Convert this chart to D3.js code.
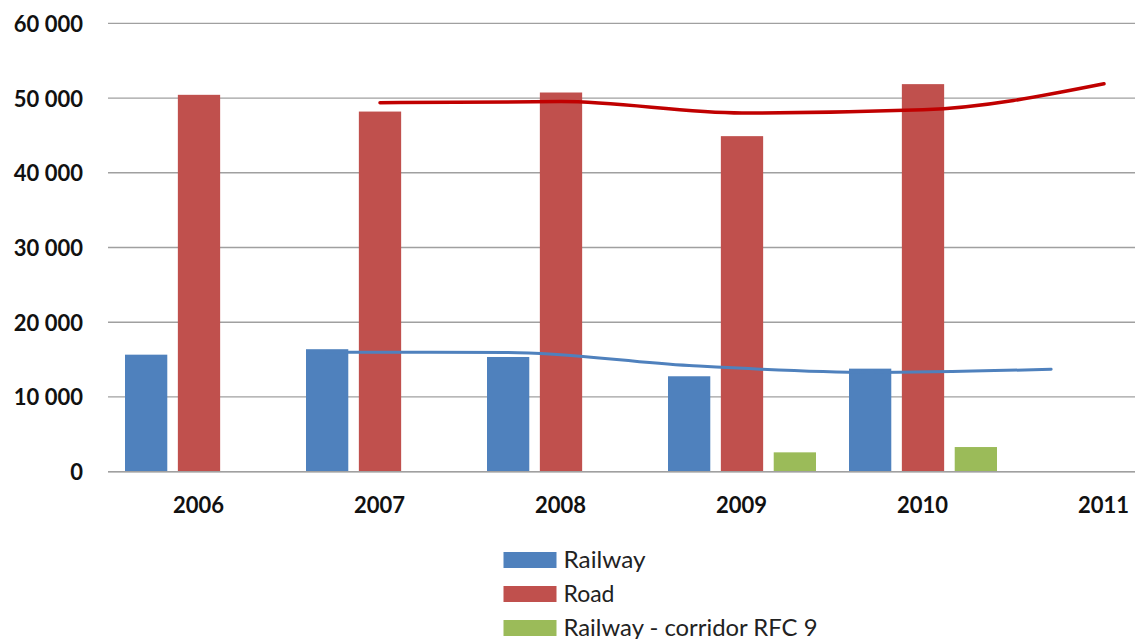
<!DOCTYPE html>
<html>
<head>
<meta charset="utf-8">
<script src="https://cdn.jsdelivr.net/npm/d3@7"></script>
<style>
  html, body { margin: 0; padding: 0; background: #fff; }
  svg { display: block; }
</style>
</head>
<body>
<div id="chart"></div>
<script>
// ---- data ----
const years = ["2006", "2007", "2008", "2009", "2010", "2011"];
const seriesNames = ["Railway", "Road", "Railway - corridor RFC 9"];
const railway = [15660, 16390, 15350, 12770, 13790, null];
const road = [50430, 48190, 50740, 44900, 51860, null];
const corridor = [null, null, null, 2590, 3300, null];
const roadTrend = [null, 49360, 49530, 48000, 48420, 51900];
const railwayTrend = [null, 16000, 15960, 14200, 13280, 13710];
const yTicks = [0, 10000, 20000, 30000, 40000, 50000, 60000];
const yTickLabels = ["0", "10 000", "20 000", "30 000", "40 000", "50 000", "60 000"];

const colors = { "Railway": "#4F81BD", "Road": "#C0504D", "Railway - corridor RFC 9": "#9BBB59" };
const W = 1135, H = 639;
const svg = d3.select("#chart").append("svg").attr("width", W).attr("height", H);

const x = d3.scaleBand().domain(years).range([108, 108 + 6 * 181]);
const sub = d3.scaleBand().domain(seriesNames).range([17, 165]).paddingInner(0.2);
const y = d3.scaleLinear().domain([0, 60000]).range([471.7, 23.3]);

// gridlines
svg.append("g").selectAll("line").data(yTicks).join("line")
  .attr("x1", 108).attr("x2", W)
  .attr("y1", d => y(d)).attr("y2", d => y(d))
  .attr("stroke", "#a0a0a0").attr("stroke-width", 1.3);

// y labels
svg.append("g").selectAll("text").data(yTicks).join("text")
  .attr("x", 83).attr("y", d => y(d))
  .attr("text-anchor", "end").attr("dominant-baseline", "central")
  .attr("font-family", "Lato, 'Open Sans', sans-serif").attr("font-weight", "bold")
  .attr("font-size", 22).attr("fill", "#111")
  .text((d, i) => yTickLabels[i]);

// x labels
svg.append("g").selectAll("text").data(years).join("text")
  .attr("x", d => x(d) + x.bandwidth() / 2).attr("y", 513)
  .attr("text-anchor", "middle")
  .attr("font-family", "Lato, 'Open Sans', sans-serif").attr("font-weight", "bold")
  .attr("font-size", 22).attr("fill", "#111")
  .text(d => d);

// bars
const seriesData = [railway, road, corridor];
const bars = [];
seriesNames.forEach((s, si) => {
  years.forEach((yr, i) => {
    const v = seriesData[si][i];
    if (v != null) bars.push({ s, yr, v });
  });
});
svg.append("g").selectAll("rect").data(bars).join("rect")
  .attr("x", d => x(d.yr) + sub(d.s))
  .attr("width", sub.bandwidth())
  .attr("y", d => y(d.v))
  .attr("height", d => y(0) - y(d.v))
  .attr("fill", d => colors[d.s]);

// trend lines
function trendPts(arr, s) {
  return years.map((yr, i) => ({ yr, v: arr[i] })).filter(d => d.v != null)
    .map(d => [x(d.yr) + sub(s) + sub.bandwidth() / 2, y(d.v)]);
}
const line = d3.line().curve(d3.curveMonotoneX);
svg.append("path").attr("d", line(trendPts(railwayTrend, "Railway")))
  .attr("fill", "none").attr("stroke", "#4F81BD").attr("stroke-width", 3).attr("stroke-linecap", "round");
svg.append("path").attr("d", line(trendPts(roadTrend, "Road")))
  .attr("fill", "none").attr("stroke", "#C00000").attr("stroke-width", 3.5).attr("stroke-linecap", "round");

// axis line
svg.append("line").attr("x1", 108).attr("x2", W).attr("y1", y(0)).attr("y2", y(0))
  .attr("stroke", "#a0a0a0").attr("stroke-width", 1.5);

// legend
const lg = svg.append("g").selectAll("g").data(seriesNames).join("g")
  .attr("transform", (d, i) => `translate(503.5, ${552 + i * 34})`);
lg.append("rect").attr("width", 53).attr("height", 16).attr("fill", d => colors[d]);
lg.append("text").attr("x", 60).attr("y", 15.5)
  .attr("font-family", "Lato, 'Open Sans', sans-serif").attr("font-size", 23).attr("fill", "#222")
  .attr("textLength", (d, i) => [82, 51, 254][i]).attr("lengthAdjust", "spacingAndGlyphs")
  .text(d => d);
</script>
</body>
</html>
